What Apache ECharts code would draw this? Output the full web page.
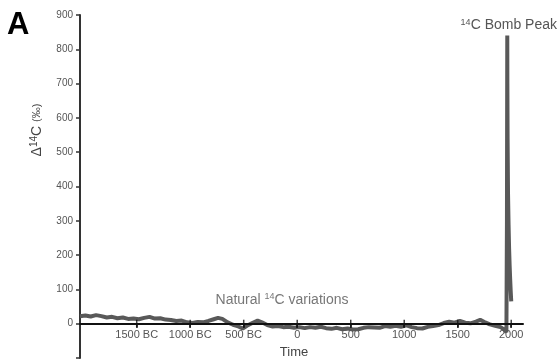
<!DOCTYPE html>
<html>
<head>
<meta charset="utf-8">
<script src="https://cdn.jsdelivr.net/npm/echarts@6/dist/echarts.min.js"></script>
<style>
  html, body { margin: 0; padding: 0; background: #fff; }
  #chart { width: 560px; height: 360px; }
</style>
</head>
<body>
<div id="chart"></div>
<script>
// calendar years (negative = BC) and delta 14C in permil
var years = [
  -2030, -1980, -1930, -1880, -1830, -1780, -1730, -1680, -1630, -1580,
  -1530, -1480, -1430, -1380, -1330, -1280, -1230, -1180, -1130, -1080,
  -1030, -980, -930, -880, -830, -780, -740, -700, -650, -600,
  -550, -510, -470, -420, -370, -330, -280, -230, -180, -130,
  -80, -30, 20, 70, 120, 170, 220, 270, 320, 370,
  420, 470, 520, 570, 620, 670, 720, 770, 820, 870,
  920, 970, 1020, 1070, 1120, 1170, 1220, 1270, 1320, 1370,
  1420, 1470, 1520, 1570, 1620, 1670, 1710, 1750, 1800, 1850,
  1900, 1940, 1955, 1960, 1963, 1964, 1966, 1970, 1975, 1980,
  1985, 1990, 1995, 2000
];
var d14c = [
  22, 24, 21, 25, 22, 18, 20, 16, 18, 14,
  15, 13, 17, 20, 15, 16, 12, 11, 8, 9,
  4, 2, 5, 4, 8, 13, 17, 14, 4, -3,
  -8, -14, -6, 2, 9, 4, -4, -8, -7, -10,
  -9, -12, -10, -13, -10, -12, -9, -13, -15, -12,
  -16, -14, -17, -16, -12, -10, -11, -12, -7, -9,
  -6, -9, -5, -10, -13, -14, -9, -7, -4, 2,
  6, 3, 8, 3, 1, 6, 11, 5, -2, -6,
  -10, -18, -25, 300, 840, 700, 540, 380, 290, 220,
  170, 130, 95, 65
];
var xTicks = [-1500, -1000, -500, 0, 500, 1000, 1500, 2000];

var font = '"Liberation Sans", Arial, sans-serif';
var chart = echarts.init(document.getElementById('chart'));

var points = years.map(function (y, i) { return [y, d14c[i]]; });
// upper half of the crossing ticks on the time axis
var tickMarks = xTicks.map(function (t) { return [t, 0]; });

var option = {
  animation: false,
  grid: { left: 80, right: 37, top: 15, bottom: 2, outerBoundsMode: 'none', containLabel: false },
  xAxis: {
    type: 'value',
    min: -2030,
    max: 2110,
    z: 5,
    offset: 0,
    splitLine: { show: false },
    axisLine: { onZero: false, lineStyle: { color: '#111', width: 2 } },
    axisTick: { customValues: xTicks, length: 4, lineStyle: { color: '#111', width: 1.5 } },
    axisLabel: {
      customValues: xTicks,
      margin: 6,
      color: '#555',
      fontFamily: font,
      fontSize: 11,
      formatter: function (v) { return v < 0 ? (-v) + ' BC' : String(v); }
    }
  },
  yAxis: {
    type: 'value',
    min: -100,
    max: 900,
    interval: 100,
    splitLine: { show: false },
    axisLine: { show: true, onZero: false, lineStyle: { color: '#333', width: 2 } },
    axisTick: { show: true, length: 4, lineStyle: { color: '#333', width: 1.5 } },
    axisLabel: {
      margin: 7,
      color: '#555',
      fontFamily: font,
      fontSize: 10,
      formatter: function (v) { return v < 0 ? '' : String(v); }
    }
  },
  series: [{
    type: 'line',
    data: points,
    showSymbol: false,
    lineStyle: { color: '#595959', width: 4 },
    z: 2
  }, {
    type: 'scatter',
    data: tickMarks,
    symbol: 'rect',
    symbolSize: [1.5, 8],
    itemStyle: { color: '#111' },
    silent: true,
    z: 6
  }],
  graphic: [
    {
      type: 'text', left: 7, top: 10,
      style: { text: 'A', font: 'bold 31px ' + font, fill: '#000' }
    },
    {
      type: 'text', x: 37, y: 130, rotation: Math.PI / 2,
      style: {
        text: 'Δ{s|14}C {p|(‰)}',
        font: '14px ' + font, fill: '#444',
        align: 'center', verticalAlign: 'middle',
        rich: {
          s: { fontSize: 10, fontFamily: 'Liberation Sans', padding: [0, 0, 6, 0], fill: '#444' },
          p: { fontSize: 11, fontFamily: 'Liberation Sans', fill: '#444' }
        }
      }
    },
    {
      type: 'text', x: 557, y: 25,
      style: {
        text: '{s|14}C Bomb Peak',
        font: '14px ' + font, fill: '#555',
        align: 'right', verticalAlign: 'middle',
        rich: { s: { fontSize: 9, fontFamily: 'Liberation Sans', padding: [0, 0, 5, 0], fill: '#555' } }
      }
    },
    {
      type: 'text', x: 282, y: 300,
      style: {
        text: 'Natural {s|14}C variations',
        font: '14px ' + font, fill: '#777',
        align: 'center', verticalAlign: 'middle',
        rich: { s: { fontSize: 9, fontFamily: 'Liberation Sans', padding: [0, 0, 6, 0], fill: '#777' } }
      }
    },
    {
      type: 'text', x: 294, y: 352,
      style: { text: 'Time', font: '13px ' + font, fill: '#444', align: 'center', verticalAlign: 'middle' }
    }
  ]
};

chart.setOption(option);

// move the time axis up onto the zero line (labels follow it)
var yZero = chart.convertToPixel({ yAxisIndex: 0 }, 0);
var yMin = chart.convertToPixel({ yAxisIndex: 0 }, -100);
chart.setOption({ xAxis: { offset: -(yMin - yZero) } });
</script>
</body>
</html>
